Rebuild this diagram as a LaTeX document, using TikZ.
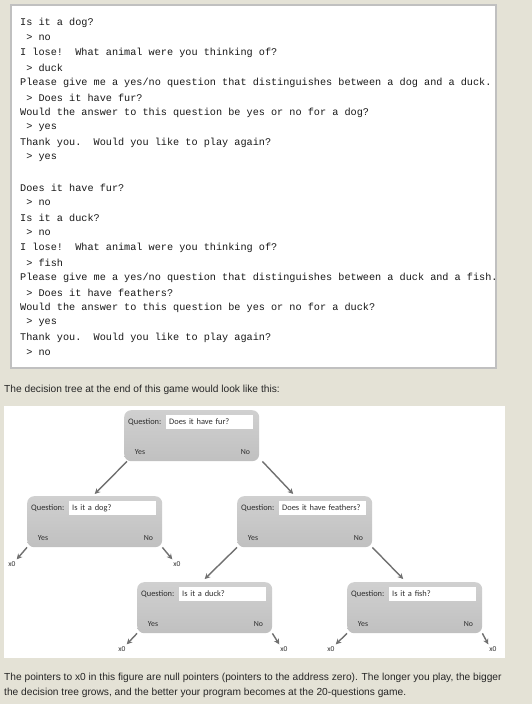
\documentclass[tikz,border=0pt]{standalone}
\usepackage{fontspec}
\setmainfont{Liberation Sans}
\newfontfamily\consolefont{Liberation Mono}[WordSpace={1,0,0}]
\newfontfamily\treefont{Carlito}
\usetikzlibrary{arrows.meta,calc,positioning}

\definecolor{pagebg}{RGB}{228,226,214}
\definecolor{consoleedge}{RGB}{192,192,192}
\definecolor{boxtop}{RGB}{208,208,208}
\definecolor{boxbottom}{RGB}{192,192,192}
\definecolor{ptrgray}{RGB}{112,112,112}
\definecolor{treetext}{RGB}{45,45,45}

\tikzset{
  consolebox/.style={fill=white, draw=consoleedge, line width=1.5pt},
  consoleline/.style={anchor=west, inner sep=0pt, text=black!90,
    font=\consolefont\fontsize{10.2}{12}\selectfont},
  htmltext/.style={anchor=west, inner sep=0pt, text=black!85,
    font=\fontsize{10.2}{12}\selectfont},
  qbox/.style={rounded corners=7pt, minimum width=135pt, minimum height=51pt,
    inner sep=0pt, top color=boxtop, bottom color=boxbottom},
  qlabel/.style={anchor=west, inner sep=0pt, text=treetext,
    font=\treefont\fontsize{8.4}{9}\selectfont},
  qfield/.style={anchor=west, fill=white, minimum width=87pt, minimum height=14pt,
    inner xsep=3pt, inner ysep=0pt, align=left, text=treetext,
    font=\treefont\fontsize{8.4}{9}\selectfont},
  qanswer/.style={inner sep=0pt, text=treetext, font=\treefont\fontsize{7.8}{9}\selectfont},
  nullptr/.style={inner sep=0pt, text=treetext, font=\treefont\fontsize{7.5}{9}\selectfont},
  ptr/.style={draw=ptrgray, line width=1.4pt, -{Stealth[length=5.5pt, width=5.5pt]}},
}

% #1=name, #2=top left corner, #3=question
\newcommand{\QuestionBox}[3]{%
  \node[qbox, anchor=north west] (#1) at (#2) {};
  \node[qlabel] (#1-label) at ($(#1.north west)+(4,12)$) {Question:};
  \node[qfield, text width=81pt] (#1-field) at ($(#1.north west)+(42,12)$) {#3};
  \node[qanswer] (#1-yes) at ($(#1.north west)+(16,42)$) {Yes};
  \node[qanswer] (#1-no) at ($(#1.north east)+(-14,42)$) {No};
}

\begin{document}
\begin{tikzpicture}[x=1pt, y=-1pt]
  \useasboundingbox[fill=pagebg] (0,0) rectangle (532,704);
  % the game transcript
  \draw[consolebox] (11,5) rectangle (496,368);
  \foreach \txt [count=\i from 0] in {Is it a dog?, \ > no,
      I lose!\ \ What animal were you thinking of?, \ > duck,
      Please give me a yes/no question that distinguishes between a dog and a duck.,
      \ > Does it have fur?, Would the answer to this question be yes or no for a dog?,
      \ > yes, Thank you.\ \ Would you like to play again?, \ > yes}
    \node[consoleline] (round1-\i) at (20,23+15*\i) {\txt};
  \foreach \txt [count=\i from 0] in {Does it have fur?, \ > no, Is it a duck?, \ > no,
      I lose!\ \ What animal were you thinking of?, \ > fish,
      Please give me a yes/no question that distinguishes between a duck and a fish.,
      \ > Does it have feathers?, Would the answer to this question be yes or no for a duck?,
      \ > yes, Thank you.\ \ Would you like to play again?, \ > no}
    \node[consoleline] (round2-\i) at (20,188+15*\i) {\txt};

  \node[htmltext] (intro) at (4,390) {The decision tree at the end of this game would look like this:};

  % the tree
  \fill[white] (4,406) rectangle (505,658);
  \QuestionBox{root}{124,410}{Does it have fur?}
  \QuestionBox{dog}{27,496}{Is it a dog?}
  \QuestionBox{feathers}{237,496}{Does it have feathers?}
  \QuestionBox{duck}{137,582}{Is it a duck?}
  \QuestionBox{fish}{347,582}{Is it a fish?}

  \node[nullptr] (dog-x0y)  at (12,564)  {x0};
  \node[nullptr] (dog-x0n)  at (177,564) {x0};
  \node[nullptr] (duck-x0y) at (122,649) {x0};
  \node[nullptr] (duck-x0n) at (284,649) {x0};
  \node[nullptr] (fish-x0y) at (331,649) {x0};
  \node[nullptr] (fish-x0n) at (493,649) {x0};

  % pointers
  \draw[ptr] ([xshift=3pt]root.south west) -- ([yshift=2pt]dog.north);
  \draw[ptr] ([xshift=3pt]root.south east) -- ([xshift=-11.5pt, yshift=2pt]feathers.north);
  \draw[ptr] (feathers.south west) -- ([yshift=3pt]duck.north);
  \draw[ptr] (feathers.south east) -- ([xshift=-11.5pt, yshift=3pt]fish.north);
  \draw[ptr] (dog.south west) -- ([xshift=1pt, yshift=2pt]dog-x0y.north east);
  \draw[ptr] (dog.south east) -- ([xshift=-1pt, yshift=2pt]dog-x0n.north west);
  \draw[ptr] (duck.south west) -- ([xshift=1pt, yshift=2pt]duck-x0y.north east);
  \draw[ptr] (duck.south east) -- ([xshift=-1pt, yshift=2pt]duck-x0n.north west);
  \draw[ptr] (fish.south west) -- ([xshift=1pt, yshift=2pt]fish-x0y.north east);
  \draw[ptr] (fish.south east) -- ([xshift=-1pt, yshift=2pt]fish-x0n.north west);

  \node[htmltext] (outro1) at (4,678) {The pointers to x0 in this figure are null pointers (pointers to the address zero). The longer you play, the bigger};
  \node[htmltext] (outro2) at (4,693) {the decision tree grows, and the better your program becomes at the 20-questions game.};
\end{tikzpicture}
\end{document}
